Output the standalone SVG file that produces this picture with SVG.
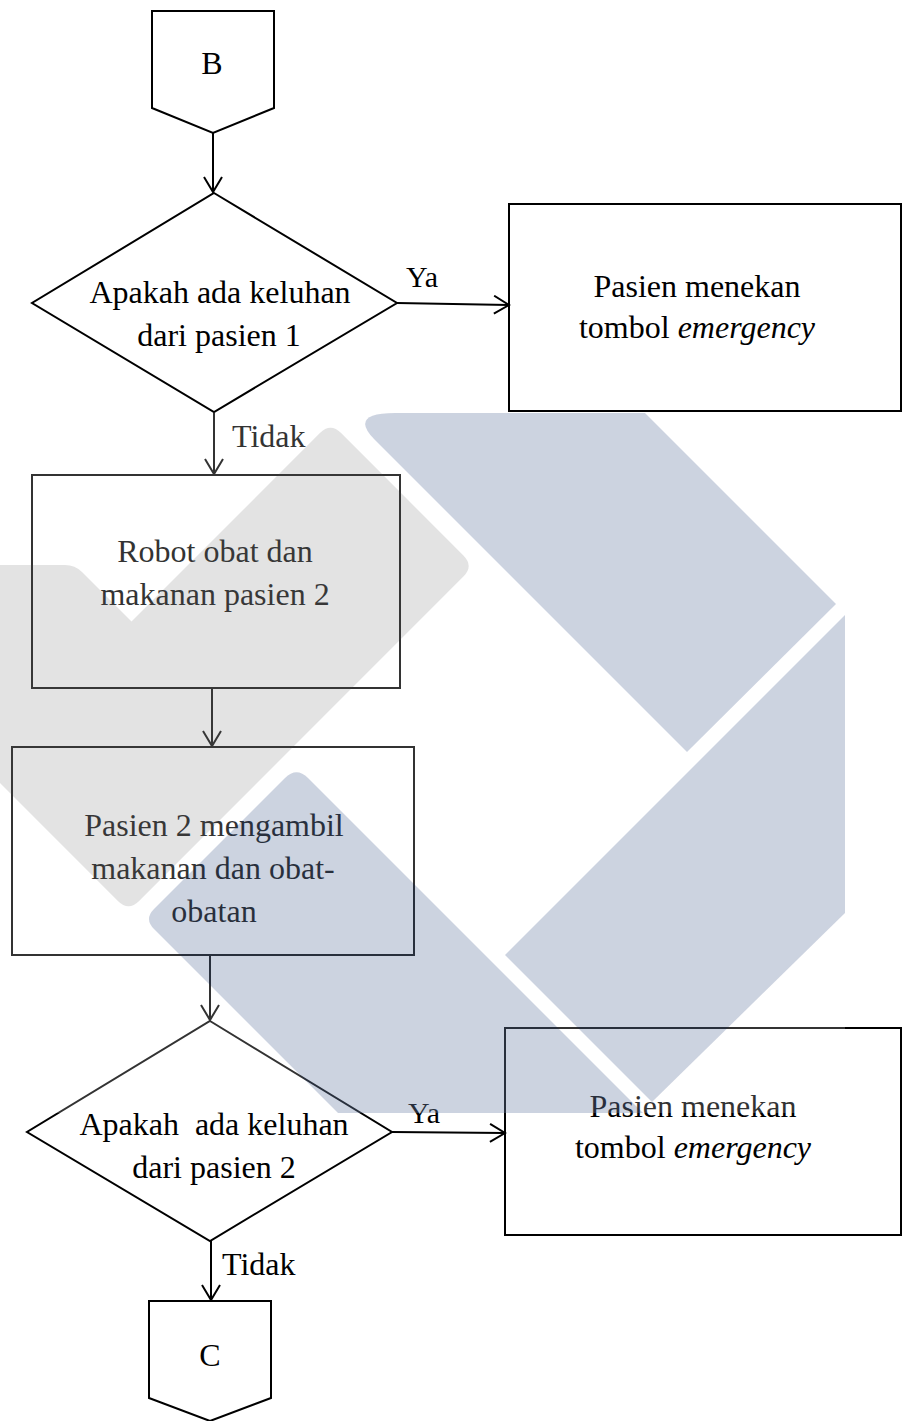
<svg xmlns="http://www.w3.org/2000/svg" width="903" height="1421" viewBox="0 0 903 1421">
<defs>
<style>
.shape{fill:#fff;stroke:#000;stroke-width:2;stroke-linejoin:miter}
.t{font-family:"Liberation Serif","Times New Roman",serif;font-size:32px;fill:#000}
.c{text-anchor:middle}
.edge{stroke:#000;stroke-width:2;fill:none}
.wm-g{fill:#4c4c4c;fill-opacity:0.157}
.wm-b{fill:#002166;fill-opacity:0.2}
</style>
<marker id="ah" markerUnits="userSpaceOnUse" markerWidth="20" markerHeight="22" refX="16" refY="10" orient="auto">
<path d="M1,1 L16,10 L1,19" fill="none" stroke="#000" stroke-width="2"/>
</marker>
</defs>
<rect width="903" height="1421" fill="#fff"/>

<g id="connector-B">
<polygon class="shape" points="152,11 274,11 274,108 213,133 152,108"/>
<text class="t c" x="212" y="74">B</text>
</g>

<g id="decision-1">
<polygon class="shape" points="214,193 397,303 214,412 32,303"/>
<text class="t c" x="220" y="303">Apakah ada keluhan</text>
<text class="t c" x="219" y="346">dari pasien 1</text>
</g>

<g id="process-emergency-1">
<rect class="shape" x="509" y="204" width="392" height="207"/>
<text class="t c" x="697" y="297">Pasien menekan</text>
<text class="t c" x="697" y="338">tombol <tspan font-style="italic">emergency</tspan></text>
</g>

<g id="process-robot">
<rect class="shape" x="32" y="475" width="368" height="213"/>
<text class="t c" x="215" y="562">Robot obat dan</text>
<text class="t c" x="215" y="605">makanan pasien 2</text>
</g>

<g id="process-pasien2">
<rect class="shape" x="12" y="747" width="402" height="208"/>
<text class="t c" x="214" y="836">Pasien 2 mengambil</text>
<text class="t c" x="213" y="879">makanan dan obat-</text>
<text class="t c" x="214" y="922">obatan</text>
</g>

<g id="decision-2">
<polygon class="shape" points="210,1021 392,1132 210,1241 27,1132"/>
<text class="t c" x="214" y="1135" xml:space="preserve">Apakah  ada keluhan</text>
<text class="t c" x="214" y="1178">dari pasien 2</text>
</g>

<g id="process-emergency-2">
<rect class="shape" x="505" y="1028" width="396" height="207"/>
<text class="t c" x="693" y="1117">Pasien menekan</text>
<text class="t c" x="693" y="1158">tombol <tspan font-style="italic">emergency</tspan></text>
</g>

<g id="connector-C">
<polygon class="shape" points="149,1301 271,1301 271,1398 210,1421 149,1398"/>
<text class="t c" x="210" y="1366">C</text>
</g>

<g id="connectors">
<line class="edge" x1="213" y1="133" x2="213" y2="192" marker-end="url(#ah)"/>
<line class="edge" x1="397" y1="303" x2="509" y2="305" marker-end="url(#ah)"/>
<text class="t" x="406" y="287" font-size="30" style="font-size:30px">Ya</text>
<line class="edge" x1="214" y1="413" x2="214" y2="474" marker-end="url(#ah)"/>
<text class="t" x="232" y="447">Tidak</text>
<line class="edge" x1="212" y1="688" x2="212" y2="746" marker-end="url(#ah)"/>
<line class="edge" x1="210" y1="955" x2="210" y2="1020" marker-end="url(#ah)"/>
<line class="edge" x1="392" y1="1132" x2="505" y2="1133" marker-end="url(#ah)"/>
<text class="t" x="408" y="1123" style="font-size:30px">Ya</text>
<line class="edge" x1="211" y1="1241" x2="211" y2="1300" marker-end="url(#ah)"/>
<text class="t" x="222" y="1275">Tidak</text>
</g>

<g id="watermark">
<rect x="0" y="413" width="845" height="700" fill="#fff" fill-opacity="0.2"/>
<path class="wm-g" d="M0,565 L65,565 Q75,565 82,572 L131.5,621.5 L319.9,433.1 Q330.5,422.5 341.1,433.1 L463.4,555.4 Q474,566 463.4,576.6 L139.1,900.9 Q128.5,911.5 117.9,900.9 L0,783 Z"/>
<path class="wm-b" d="M395,413 L645,413 L836,604 L687,752 L375,440 Q348,413 395,413 Z"/>
<path class="wm-b" d="M845,615 L845,913 L652,1102 L505,955 Z"/>
<path class="wm-b" d="M285,778 Q296.5,766.5 308,778 L643,1113 L338,1113 L154,929 Q144,919 154,909 Z"/>
</g>
</svg>
